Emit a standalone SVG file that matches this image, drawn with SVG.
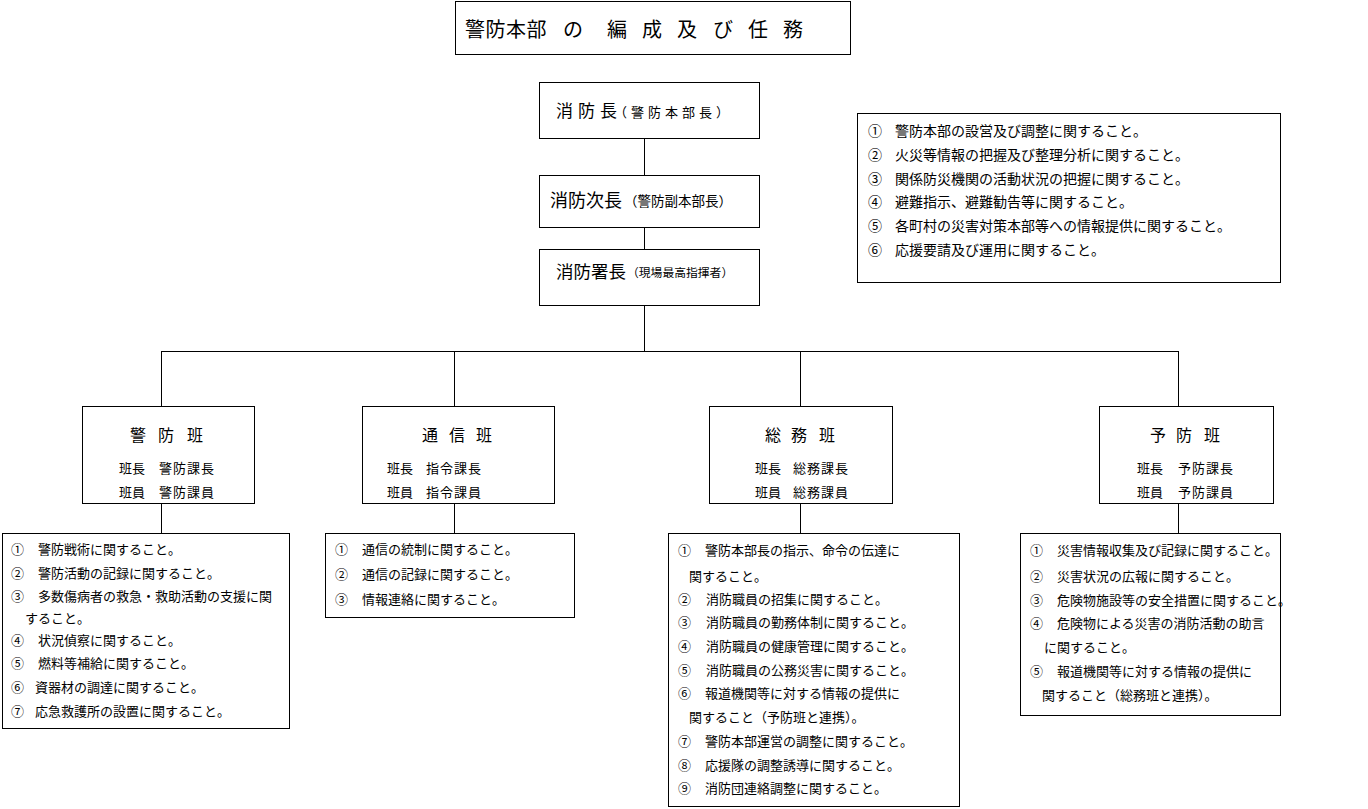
<svg xmlns="http://www.w3.org/2000/svg" width="1368" height="809" viewBox="0 0 1368 809">
<style>
.b{fill:#fff;stroke:#000;stroke-width:1}
.c{stroke:#000;stroke-width:1;fill:none}
text{font-family:"Noto Sans CJK JP","Noto Sans CJK SC",sans-serif;fill:#000}
.t13{font-size:13px}
.t14{font-size:14px}
.g{font-size:16px}
.m{font-size:13px}
</style>
<rect width="1368" height="809" fill="#fff"/>
<g id="connectors">
<path class="c" d="M644.5 138V175M644.5 227V249M644.5 305V351.5M161 351.5H1178.5M161.5 351V406M454.5 351V406M800.5 351V406M1178.5 351V406M161.5 503V533M454.5 503V533M800.5 503V533M1178.5 503V533"/>
</g>
<g id="title">
<rect class="b" x="455.5" y="1.5" width="395" height="53"/>
<text x="465 485.5 506 526.5 563 607 642 677 713 748 783" y="37" style="font-size:20px">警防本部の編成及び任務</text>
</g>
<g id="chief">
<rect class="b" x="539.5" y="82.5" width="220" height="56"/>
<text x="556 578 600" y="117" style="font-size:17px">消防長</text>
<text x="614" y="117" style="font-size:13px;letter-spacing:4px">（警防本部長）</text>
</g>
<g id="deputy">
<rect class="b" x="539.5" y="175.5" width="220" height="52"/>
<text x="550" y="207" style="font-size:18px">消防次長</text>
<text x="624" y="206" style="font-size:13.5px">（警防副本部長）</text>
</g>
<g id="station">
<rect class="b" x="539.5" y="249.5" width="220" height="56"/>
<text x="556" y="278" style="font-size:17.5px">消防署長</text>
<text x="627" y="277" style="font-size:11.8px">（現場最高指揮者）</text>
</g>
<g id="hq-duties">
<rect class="b" x="857.5" y="113.5" width="423" height="169"/>
<g class="t14">
<text x="868" y="136">①</text><text x="895" y="136">警防本部の設営及び調整に関すること。</text>
<text x="868" y="160">②</text><text x="895" y="160">火災等情報の把握及び整理分析に関すること。</text>
<text x="868" y="184">③</text><text x="895" y="184">関係防災機関の活動状況の把握に関すること。</text>
<text x="868" y="207">④</text><text x="895" y="207">避難指示、避難勧告等に関すること。</text>
<text x="868" y="231">⑤</text><text x="895" y="231">各町村の災害対策本部等への情報提供に関すること。</text>
<text x="868" y="255">⑥</text><text x="895" y="255">応援要請及び運用に関すること。</text>
</g>
</g>
<g id="keibo">
<rect class="b" x="82.5" y="406.5" width="172" height="97"/>
<text class="g" x="130 158 187" y="441">警防班</text>
<text class="m" x="119" y="473">班長</text><text class="m" x="159" y="473" style="letter-spacing:1px">警防課長</text>
<text class="m" x="119" y="497">班員</text><text class="m" x="159" y="497" style="letter-spacing:1px">警防課員</text>
</g>
<g id="tsushin">
<rect class="b" x="362.5" y="406.5" width="192" height="97"/>
<text class="g" x="422 449 476" y="441">通信班</text>
<text class="m" x="387" y="473">班長</text><text class="m" x="426" y="473" style="letter-spacing:1px">指令課長</text>
<text class="m" x="387" y="497">班員</text><text class="m" x="426" y="497" style="letter-spacing:1px">指令課員</text>
</g>
<g id="somu">
<rect class="b" x="709.5" y="406.5" width="183" height="97"/>
<text class="g" x="765 791 819" y="441">総務班</text>
<text class="m" x="755" y="473">班長</text><text class="m" x="793" y="473" style="letter-spacing:1px">総務課長</text>
<text class="m" x="755" y="497">班員</text><text class="m" x="793" y="497" style="letter-spacing:1px">総務課員</text>
</g>
<g id="yobo">
<rect class="b" x="1099.5" y="406.5" width="174" height="97"/>
<text class="g" x="1150 1176 1204" y="441">予防班</text>
<text class="m" x="1137" y="473">班長</text><text class="m" x="1178" y="473" style="letter-spacing:1px">予防課長</text>
<text class="m" x="1137" y="497">班員</text><text class="m" x="1178" y="497" style="letter-spacing:1px">予防課員</text>
</g>
<g id="keibo-duties">
<rect class="b" x="2.5" y="533.5" width="287" height="195"/>
<g class="t13">
<text x="11" y="554">①</text><text x="38" y="554">警防戦術に関すること。</text>
<text x="11" y="578">②</text><text x="38" y="578">警防活動の記録に関すること。</text>
<text x="11" y="601">③</text><text x="38" y="601">多数傷病者の救急・救助活動の支援に関</text>
<text x="25" y="623">すること。</text>
<text x="11" y="645">④</text><text x="38" y="645">状況偵察に関すること。</text>
<text x="11" y="668">⑤</text><text x="38" y="668">燃料等補給に関すること。</text>
<text x="11" y="692">⑥</text><text x="35" y="692">資器材の調達に関すること。</text>
<text x="11" y="716">⑦</text><text x="35" y="716">応急救護所の設置に関すること。</text>
</g>
</g>
<g id="tsushin-duties">
<rect class="b" x="325.5" y="533.5" width="249" height="84"/>
<g class="t13">
<text x="335" y="554">①</text><text x="362" y="554">通信の統制に関すること。</text>
<text x="335" y="579">②</text><text x="362" y="579">通信の記録に関すること。</text>
<text x="335" y="604">③</text><text x="362" y="604">情報連絡に関すること。</text>
</g>
</g>
<g id="somu-duties">
<rect class="b" x="668.5" y="533.5" width="291" height="273"/>
<g class="t13">
<text x="678" y="555">①</text><text x="705" y="555">警防本部長の指示、命令の伝達に</text>
<text x="689" y="581">関すること。</text>
<text x="678" y="604">②</text><text x="706" y="604">消防職員の招集に関すること。</text>
<text x="678" y="627">③</text><text x="706" y="627">消防職員の勤務体制に関すること。</text>
<text x="678" y="651">④</text><text x="706" y="651">消防職員の健康管理に関すること。</text>
<text x="678" y="675">⑤</text><text x="706" y="675">消防職員の公務災害に関すること。</text>
<text x="678" y="698">⑥</text><text x="705" y="698">報道機関等に対する情報の提供に</text>
<text x="689" y="722">関すること（予防班と連携）。</text>
<text x="678" y="746">⑦</text><text x="705" y="746">警防本部運営の調整に関すること。</text>
<text x="678" y="770">⑧</text><text x="705" y="770">応援隊の調整誘導に関すること。</text>
<text x="678" y="793">⑨</text><text x="705" y="793">消防団連絡調整に関すること。</text>
</g>
</g>
<g id="yobo-duties">
<rect class="b" x="1020.5" y="533.5" width="260" height="182"/>
<g class="t13">
<text x="1030" y="555">①</text><text x="1057" y="555">災害情報収集及び記録に関すること。</text>
<text x="1030" y="581">②</text><text x="1057" y="581">災害状況の広報に関すること。</text>
<text x="1030" y="605">③</text><text x="1057" y="605">危険物施設等の安全措置に関すること。</text>
<text x="1030" y="628">④</text><text x="1057" y="628">危険物による災害の消防活動の助言</text>
<text x="1044" y="652">に関すること。</text>
<text x="1030" y="676">⑤</text><text x="1057" y="676">報道機関等に対する情報の提供に</text>
<text x="1042" y="700">関すること（総務班と連携）。</text>
</g>
</g>
</svg>
